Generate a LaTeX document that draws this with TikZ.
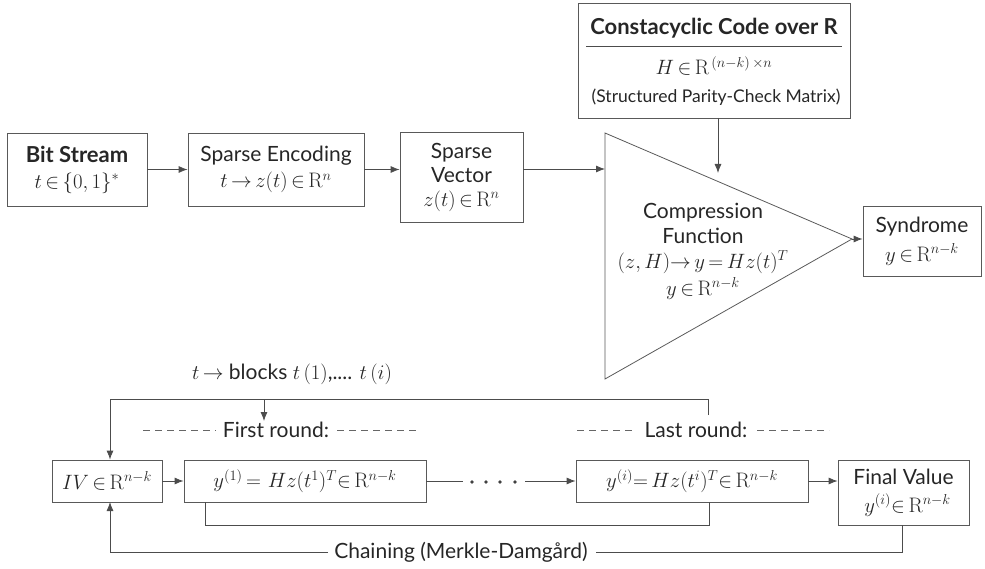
\documentclass[tikz,border=0pt]{standalone}
\usepackage{fontspec}
\setmainfont{Lato}
\setmathrm{Latin Modern Roman}
\usetikzlibrary{arrows.meta}
\begin{document}
\begin{tikzpicture}[x=1pt,y=-1pt,
  every node/.style={font=\fontsize{21}{24}\selectfont, text=black!85},
  box/.style={draw=black!65, line width=0.8pt, inner sep=0pt, align=center},
  conn/.style={draw=black!70, line width=0.8pt},
  arr/.style={conn, -{Latex[length=9pt,width=7pt]}},
  dsh/.style={draw=black!60, line width=0.7pt, dash pattern=on 7pt off 5pt},
  lbl/.style={inner sep=0pt, align=center},
  bld/.style={font=\fontsize{22}{24}\selectfont\bfseries}]
\thickmuskip=3mu plus 2mu
\medmuskip=2mu
\useasboundingbox (0,0) rectangle (985,569);
% top row
\node[box, minimum width=140, minimum height=73] (bit) at (77,169.5)
  {\fontsize{22}{24}\selectfont\textbf{Bit Stream}\\[2pt] $t\in\{0,1\}^{*}$};
\node[box, minimum width=176, minimum height=73] (enc) at (276,169.5)
  {Sparse Encoding\\[2pt] $t\rightarrow z(t)\in \mathrm{R}^{n}$};
\node[box, minimum width=123, minimum height=90] (vec) at (461.5,177)
  {Sparse\\ Vector\\ $z(t)\in \mathrm{R}^{n}$};
\node[box, minimum width=272, minimum height=115] (code) at (714,60.5) {};
\node[lbl, bld] (codet) at (714,28) {Constacyclic Code over R};
\node[lbl] (codeh) at (714,66) {$H\in \mathrm{R}^{\,(n-k)\,\times n}$};
\node[lbl, font=\fontsize{17.5}{20}\selectfont] (codep) at (716,97) {(Structured Parity-Check Matrix)};
\coordinate (dl) at (586,46);
\coordinate (dr) at (842,46);
\draw[conn] (dl) -- (dr);
% triangle
\coordinate (tA) at (605,133);
\coordinate (tB) at (605,379);
\coordinate (tC) at (852,239);
\draw[draw=black!65, line width=0.8pt] (tA) -- (tC) -- (tB) -- cycle;
\node[lbl] (comp) at (703,251) {Compression\\[1pt] Function\\[1pt] $(z,H)\!\rightarrow y=Hz(t)^{T}$\\[3pt] $y\in \mathrm{R}^{n-k}$};
\node[box, minimum width=118, minimum height=70] (syn) at (922,241)
  {Syndrome\\[5pt] $y\in \mathrm{R}^{n-k}$};
\coordinate (codein) at (718,173);
\coordinate (codeout) at (718,118);
\coordinate (trin) at (605,169);
\draw[arr] (bit) -- (enc);
\draw[arr] (enc) -- (enc -| vec.west);
\draw[arr] (vec.east |- trin) -- (trin);
\draw[arr] (codeout) -- (codein);
\draw[arr] (tC) -- (syn.west |- tC);
% bottom part
\node[lbl] (blocks) at (292,374) {$t\rightarrow$ blocks $t\,(1)$,.... $t\,(i)$};
\node[box, minimum width=110, minimum height=42] (iv) at (107,481) {$IV\in \mathrm{R}^{n-k}$};
\node[box, minimum width=242, minimum height=42] (y1) at (305,481) {$y^{(1)}=\,Hz(t^{1})^{T}\!\in \mathrm{R}^{n-k}$};
\node[box, minimum width=232, minimum height=42] (yi) at (692,481) {$y^{(i)}\!=Hz(t^{i})^{T}\!\in \mathrm{R}^{n-k}$};
\node[box, minimum width=131, minimum height=65] (fin) at (903.5,492.5) {Final Value\\[4pt] \hspace*{8pt}$y^{(i)}\!\in \mathrm{R}^{n-k}$};
\node[lbl] (first) at (276,430) {First round:};
\node[lbl] (last) at (696,430) {Last round:};
\draw[dsh] (143,430) -- (216,430);
\draw[dsh] (337,430) -- (420,430);
\draw[dsh] (577,430) -- (634,430);
\draw[dsh] (757,430) -- (829,430);
\coordinate (topR) at (708,415);
\coordinate (topC) at (110,399);
\coordinate (splitT) at (264,399);
\coordinate (splitB) at (264,421);
\draw[arr] (topR) -- (708,399) -- (topC) -- (topC |- iv.north);
\draw[arr] (splitT) -- (splitB);
\draw[arr] (iv) -- (y1);
\coordinate (d1) at (463,481);
\coordinate (d2) at (525,481);
\draw[conn] (y1.east) -- (d1);
\foreach \xx [count=\k] in {472,486,500,515} \fill[black!75] (\xx,482) circle (1.8) coordinate (dot\k);
\draw[arr] (d2) -- (yi.west);
\draw[arr] (yi) -- (yi -| fin.west);
\draw[conn] (y1.south -| 205,0) -- (205,525) -- (709,525) -- (yi.south -| 709,0);
\node[lbl] (chain) at (461,552) {Chaining (Merkle-Damgård)};
\draw[conn] (fin.south -| 902,0) -- (902,552) -- ([xshift=8]chain.east);
\draw[arr] ([xshift=-6]chain.west) -- (110,552) -- (110,502);
\end{tikzpicture}
\end{document}
